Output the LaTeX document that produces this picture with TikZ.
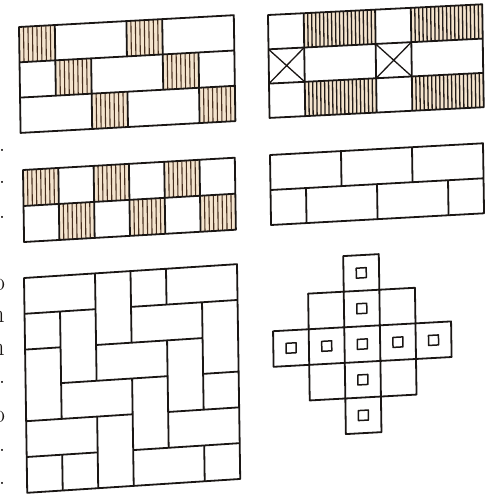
\documentclass[tikz,border=0pt]{standalone}
\usepackage{tikz}
\usepackage{xcolor}

\definecolor{ink}{RGB}{26,22,20}
\definecolor{hatchbrown}{RGB}{70,46,30}
\definecolor{hatchdark}{RGB}{34,27,24}
\definecolor{tanfill}{RGB}{244,228,206}

\tikzset{
  tilt/.style={cm={1,#1,-0.015,1,(0,0)}},
  outline/.style={draw=ink, line width=1.8pt, line join=round},
  hatchline/.style={draw=hatchbrown, line width=1.1pt},
  hatchfill/.style={fill=tanfill},
  edgechar/.style={inner sep=0pt, text=ink, font=\fontsize{26}{28}\selectfont},
}

% hatched brick: x, y, width in units, number of lines
\newcommand{\hatchcell}[4]{%
  \fill[hatchfill] (#1,#2) rectangle ++(#3,1);
  \foreach \k in {1,...,#4}
    \draw[hatchline] ({#1+#3*\k/(#4+1)},#2) -- ++(0,1);
}

\begin{document}
\begin{tikzpicture}[x=1pt, y=-1pt]
\useasboundingbox (0,0) rectangle (485,496);

% text cut off at the left edge
\foreach \ly/\lc/\lx [count=\i] in {150/./2, 182/./2, 217/./2, 285/o/-1, 317/n/-2, 350/n/-2, 382/./2, 417/o/-1, 450/./2, 483/./2}
  \node[edgechar] (edge\i) at (\lx,\ly) {\lc};

% headers and stretchers
\begin{scope}[shift={(19,27)}, tilt=0.055, x=35.8pt, y=-35.3pt]
\foreach \hx/\hy in {0/0,3/0,1/1,4/1,2/2,5/2} {\hatchcell{\hx}{\hy}{1}{7}}
\draw[outline] (0,0) rectangle (6,3) (0,1) -- (6,1) (0,2) -- (6,2);
\draw[outline] (1,0) -- (1,2) (3,0) -- (3,1) (4,0) -- (4,2) (2,1) -- (2,3) (5,1) -- (5,3) (3,2) -- (3,3);
\end{scope}

% stretchers with crossed bricks
\begin{scope}[shift={(268,15)}, tilt=0.05, x=35.7pt, y=-34.3pt,
  hatchline/.style={draw=hatchdark, line width=1.3pt}]
\foreach \hx/\hy in {1/0,4/0,1/2,4/2} {\hatchcell{\hx}{\hy}{2}{17}}
\draw[outline] (0,0) rectangle (6,3) (0,1) -- (6,1) (0,2) -- (6,2);
\draw[outline] (1,0) -- (1,3) (3,0) -- (3,3) (4,0) -- (4,3);
\draw[outline, line width=1.3pt] (0,1) -- (1,2) (0,2) -- (1,1) (3,1) -- (4,2) (3,2) -- (4,1);
\end{scope}

% checkered headers
\begin{scope}[shift={(23,170)}, tilt=0.058, x=35.3pt, y=-36pt]
\foreach \hx/\hy in {0/0,2/0,4/0,1/1,3/1,5/1} {\hatchcell{\hx}{\hy}{1}{7}}
\draw[outline] (0,0) rectangle (6,2) (0,1) -- (6,1);
\foreach \vx in {1,...,5} \draw[outline] (\vx,0) -- (\vx,2);
\end{scope}

% stretcher bond
\begin{scope}[shift={(270,155)}, tilt=0.055, x=35.5pt, y=-35pt]
\draw[outline] (0,0) rectangle (6,2) (0,1) -- (6,1);
\draw[outline] (2,0) -- (2,1) (4,0) -- (4,1) (1,1) -- (1,2) (3,1) -- (3,2) (5,1) -- (5,2);
\end{scope}

% pinwheel floor
\begin{scope}[shift={(24,278)}, tilt=0.065, x=35.5pt, y=-35.8pt]
\draw[outline] (0,0) rectangle (6,6);
\draw[outline] (0,1) -- (2,1) (3,1) -- (6,1) (0,2) -- (1,2) (2,2) -- (5,2)
  (1,3) -- (4,3) (5,3) -- (6,3) (0,4) -- (3,4) (4,4) -- (6,4)
  (0,5) -- (2,5) (3,5) -- (6,5);
\draw[outline] (1,1) -- (1,4) (1,5) -- (1,6) (2,0) -- (2,3) (2,4) -- (2,6)
  (3,0) -- (3,2) (3,3) -- (3,6) (4,0) -- (4,1) (4,2) -- (4,5)
  (5,1) -- (5,4) (5,5) -- (5,6);
\end{scope}

% cross with small squares
\begin{scope}[shift={(272,260)}, tilt=0.055, x=35.6pt, y=-35.6pt]
\draw[outline] (2,0) rectangle (3,5) (0,2) rectangle (5,3) (1,1) rectangle (4,4);
\foreach \cx/\cy in {2/0,2/1,2/2,2/3,2/4,0/2,1/2,3/2,4/2}
  \draw[outline, line width=1.5pt] (\cx+0.36,\cy+0.36) rectangle ++(0.28,0.28);
\end{scope}
\end{tikzpicture}
\end{document}
